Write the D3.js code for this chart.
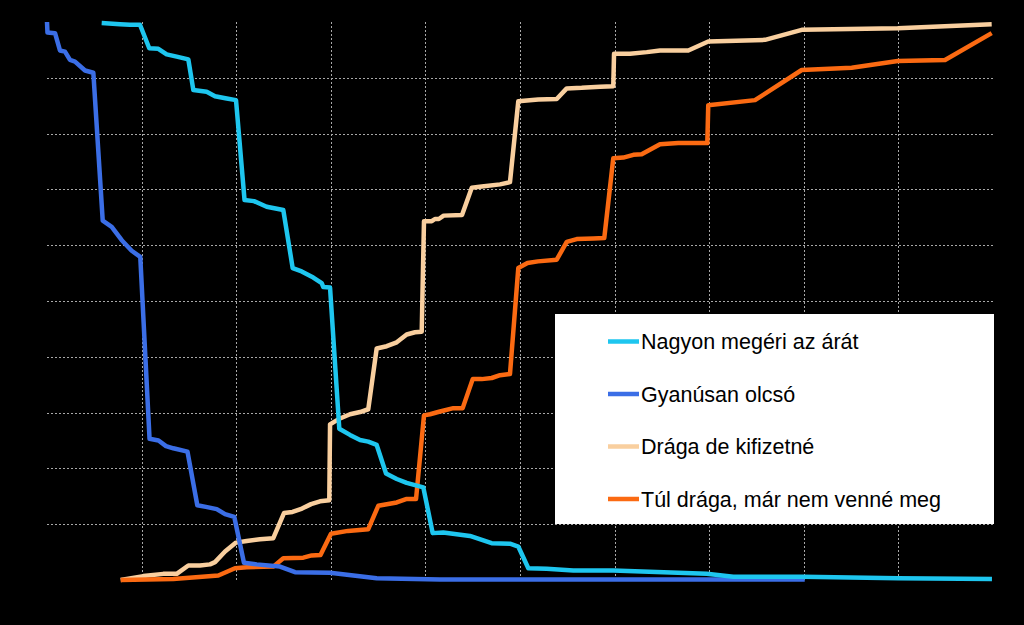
<!DOCTYPE html>
<html>
<head>
<meta charset="utf-8">
<script src="https://cdn.jsdelivr.net/npm/d3@7"></script>
<style>
  html, body { margin: 0; padding: 0; background: #000; }
  svg { display: block; }
</style>
</head>
<body>
<svg id="chart" width="1024" height="625"></svg>
<script>
// ---- data (price, cumulative %) ----
const xTicks = [100, 200, 300, 400, 500, 600, 700, 800, 900];
const yTicks = [10, 20, 30, 40, 50, 60, 70, 80, 90];

const seriesNames = ["Nagyon megéri az árát", "Gyanúsan olcsó", "Drága de kifizetné", "Túl drága, már nem venné meg"];
const seriesColors = ["#1ec6ef", "#3b6ee6", "#f9cf9f", "#fb6a12"];

const bargain = [
  [57.8,99.8],[77.2,99.6],[87.7,99.5],[98.3,99.5],[108.1,95.3],[117.7,95.2],[126.5,94.2],[137.1,93.8],
  [149.4,93.3],[154.7,87.8],[168.8,87.5],[177.6,86.7],[190,86.3],[199.8,86.0],[208.8,68.1],[218.8,67.9],
  [232.2,66.9],[249.8,66.3],[259.7,55.9],[269.2,55.3],[281.5,54.2],[290.4,53.2],[292.1,52.5],[299.2,52.4],
  [309,27.1],[320.3,26.0],[330.9,25.1],[339.6,24.8],[348.5,24.2],[358.4,19.1],[369.7,18.1],[380.2,17.4],
  [389,17.0],[397.8,16.6],[407.7,8.4],[418.9,8.5],[447.1,7.9],[470,6.6],[489.4,6.5],[498.2,6.0],
  [508.8,2.1],[528.2,2.0],[556.3,1.7],[598.6,1.7],[697.4,1.1],[725.5,0.6],[799.2,0.6],[899.6,0.3],[998.9,0.2]
];
const tooCheap = [
  [0,100],[0.5,98.1],[8.5,98.0],[13.7,94.9],[19,94.7],[24.3,93.2],[29.6,92.9],[40.2,91.3],[49,90.9],
  [58.9,64.4],[68.4,63.3],[79,60.9],[89.5,59.0],[98.6,57.9],[108.4,25.3],[117.9,25.0],[125.8,24.0],
  [133.5,23.6],[148.5,23.0],[158.9,13.4],[168,13.1],[179.4,12.7],[188.2,11.8],[198,11.3],[208.2,3.1],
  [221.7,2.8],[246.3,2.4],[262.2,1.4],[299.2,1.3],[348.5,0.3],[415.4,0.1],[801,0.1]
];
const expensive = [
  [77.9,0],[101.8,0.7],[122.9,1.1],[137.1,1.1],[149.4,2.6],[161.7,2.6],[172.3,2.8],[177.6,3.2],
  [188.2,5.1],[199.8,6.7],[211.1,7.0],[225.2,7.3],[239.2,7.5],[250.5,12.0],[259.5,12.2],[269.6,12.8],
  [279.1,13.6],[288.6,14.1],[298.4,14.3],[299.2,27.9],[307.9,28.8],[320.3,29.7],[330.9,30.1],[339.6,30.6],
  [348.5,41.5],[359.1,41.9],[369.7,42.6],[380.2,44.0],[389,44.4],[396.1,44.5],[398.5,64.3],[406.7,64.3],
  [410.1,64.7],[414.2,64.7],[419.3,65.3],[438.7,65.4],[449,70.3],[459.5,70.5],[478.9,70.9],[489.4,71.3],
  [498.2,85.8],[519.3,86.1],[538.8,86.2],[549.4,88.1],[565.2,88.2],[584.6,88.4],[598.6,88.5],[599.4,94.3],
  [616.3,94.3],[634,94.6],[648,94.9],[677.9,94.9],[699,96.5],[759,96.8],[797.8,98.6],[899.3,98.9],[998.6,99.6]
];
const tooExpensive = [
  [77.9,0],[133.5,0.2],[181.1,0.8],[198.7,2.1],[211.1,2.3],[239.2,2.4],[249.8,3.9],[270.9,4.0],
  [279.8,4.4],[289.1,4.5],[300.2,8.3],[318.2,8.8],[339.6,9.1],[350.2,13.3],[369.7,13.9],[379.5,14.5],
  [390.1,14.5],[398.5,29.5],[404.9,29.7],[415.4,30.2],[429.5,30.8],[439.4,30.8],[450,36.0],[459.5,36.0],
  [470.1,36.2],[478.9,36.7],[489.4,36.9],[498.2,55.9],[507.9,56.8],[519,57.1],[538.8,57.4],[549.4,60.6],
  [559.9,61.1],[577.5,61.2],[589.1,61.3],[598.6,75.6],[609.2,75.7],[619.8,76.2],[628.6,76.3],[648,78.1],
  [667.3,78.3],[698,78.3],[699,85.1],[748.4,86.0],[797.8,91.4],[850.6,91.8],[899.3,93.0],[949.3,93.2],[998.6,98.0]
];

// ---- layout ----
const svg = d3.select("#chart");
const plotLeft = 47, plotRight = 993, plotTop = 22, plotBottom = 580;

const x = d3.scaleLinear().domain([0, 1000]).range([plotLeft, plotRight]);
const y = d3.scaleLinear().domain([0, 100]).range([plotBottom, plotTop]);

svg.append("rect").attr("width", 1024).attr("height", 625).attr("fill", "#000");

// grid
const grid = svg.append("g").attr("stroke", "#a8a8a8").attr("stroke-width", 1)
  .attr("stroke-dasharray", "2,2").attr("shape-rendering", "crispEdges");
grid.selectAll("line.v").data(xTicks).join("line").attr("class", "v")
  .attr("x1", d => Math.round(x(d)) + 0.5).attr("x2", d => Math.round(x(d)) + 0.5)
  .attr("y1", plotTop).attr("y2", plotBottom);
grid.selectAll("line.h").data(yTicks).join("line").attr("class", "h")
  .attr("x1", plotLeft).attr("x2", plotRight)
  .attr("y1", d => Math.round(y(d)) + 0.5).attr("y2", d => Math.round(y(d)) + 0.5);

// lines
const line = d3.line().x(d => x(d[0])).y(d => y(d[1]));
const allSeries = [bargain, tooCheap, expensive, tooExpensive];
const order = [2, 3, 1, 0];
order.forEach(i => {
  svg.append("path").datum(allSeries[i])
    .attr("d", line)
    .attr("fill", "none")
    .attr("stroke", seriesColors[i])
    .attr("stroke-width", 4.5)
    .attr("stroke-linejoin", "round")
    .attr("stroke-linecap", "butt");
});

// legend
const lg = svg.append("g");
lg.append("rect").attr("x", 555).attr("y", 314).attr("width", 439).attr("height", 210).attr("fill", "#fff");
const rowY = d3.scaleLinear().domain([0, 3]).range([341.5, 499]);
seriesNames.forEach((name, i) => {
  const yy = rowY(i);
  lg.append("line").attr("x1", 608).attr("x2", 639).attr("y1", yy).attr("y2", yy)
    .attr("stroke", seriesColors[i]).attr("stroke-width", 4.5);
  lg.append("text").attr("x", 641).attr("y", yy).attr("dy", "0.35em")
    .attr("font-family", "Liberation Sans, Arial, sans-serif")
    .attr("font-size", 21.5).attr("fill", "#000").text(name);
});
</script>
</body>
</html>
